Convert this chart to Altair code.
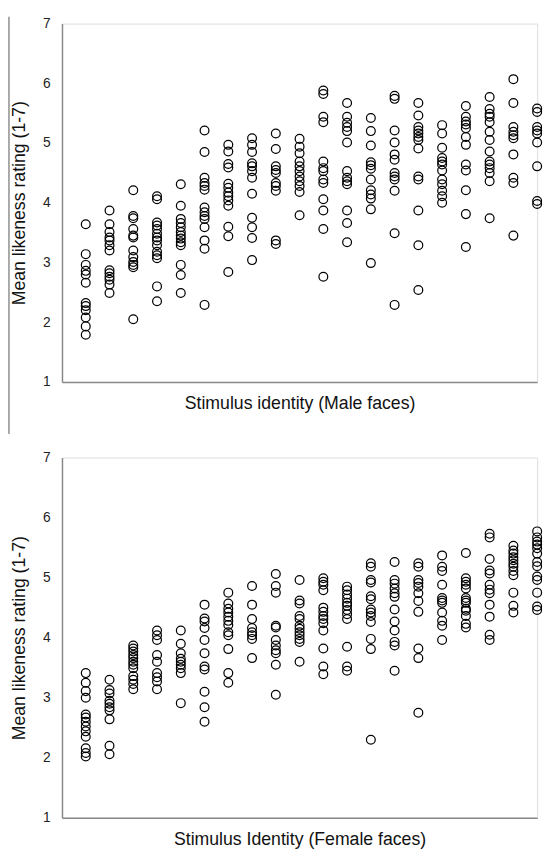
import altair as alt
import pandas as pd

# Male faces: ratings per stimulus identity (20 identities)
male = [
    [3.64, 3.14, 2.96, 2.86, 2.80, 2.66, 2.32, 2.27, 2.20, 2.08, 1.93, 1.79],
    [3.87, 3.64, 3.51, 3.42, 3.37, 3.29, 3.20, 2.87, 2.82, 2.76, 2.71, 2.63, 2.49],
    [4.21, 3.78, 3.74, 3.56, 3.45, 3.42, 3.20, 3.09, 3.01, 2.96, 2.92, 2.05],
    [4.11, 4.06, 3.67, 3.62, 3.56, 3.48, 3.42, 3.37, 3.29, 3.18, 3.12, 3.07, 2.60, 2.35],
    [4.31, 3.95, 3.73, 3.66, 3.59, 3.51, 3.45, 3.40, 3.34, 3.29, 2.96, 2.79, 2.49],
    [5.21, 4.85, 4.42, 4.33, 4.28, 4.22, 3.92, 3.84, 3.78, 3.73, 3.59, 3.37, 3.23, 2.29],
    [4.97, 4.86, 4.65, 4.59, 4.32, 4.25, 4.17, 4.11, 4.04, 3.95, 3.60, 3.44, 2.84],
    [5.08, 4.97, 4.85, 4.66, 4.61, 4.53, 4.42, 4.15, 3.75, 3.59, 3.41, 3.04],
    [5.16, 4.90, 4.61, 4.55, 4.50, 4.33, 4.28, 4.20, 3.37, 3.31],
    [5.07, 4.94, 4.83, 4.69, 4.61, 4.53, 4.44, 4.36, 4.28, 4.18, 3.79],
    [5.88, 5.82, 5.44, 5.35, 4.69, 4.58, 4.53, 4.39, 4.33, 4.06, 3.87, 3.56, 2.76],
    [5.67, 5.44, 5.34, 5.27, 5.20, 5.01, 4.53, 4.42, 4.36, 4.31, 3.87, 3.66, 3.34],
    [5.42, 5.20, 4.96, 4.68, 4.63, 4.57, 4.39, 4.21, 4.14, 4.07, 3.89, 2.99],
    [5.79, 5.74, 5.21, 5.01, 4.81, 4.72, 4.50, 4.44, 4.39, 4.20, 3.49, 2.29],
    [5.67, 5.46, 5.27, 5.21, 5.16, 5.10, 5.05, 4.91, 4.44, 4.39, 3.87, 3.29, 2.54],
    [5.30, 5.16, 4.92, 4.75, 4.69, 4.64, 4.54, 4.39, 4.31, 4.20, 4.11, 4.00],
    [5.62, 5.44, 5.36, 5.31, 5.25, 5.10, 4.97, 4.64, 4.54, 4.21, 3.81, 3.26],
    [5.77, 5.57, 5.49, 5.44, 5.35, 5.19, 5.05, 4.86, 4.69, 4.64, 4.58, 4.50, 4.36, 3.74],
    [6.07, 5.67, 5.27, 5.19, 5.13, 5.08, 4.81, 4.42, 4.33, 3.45],
    [5.58, 5.52, 5.27, 5.21, 5.16, 5.01, 4.61, 4.03, 3.98],
]

# Female faces: ratings per stimulus identity (20 identities)
female = [
    [3.41, 3.25, 3.11, 3.00, 2.72, 2.67, 2.60, 2.52, 2.44, 2.35, 2.16, 2.08, 2.02],
    [3.30, 3.13, 3.07, 2.95, 2.90, 2.84, 2.79, 2.64, 2.20, 2.06],
    [3.87, 3.82, 3.77, 3.71, 3.66, 3.60, 3.55, 3.49, 3.36, 3.30, 3.23, 3.14],
    [4.12, 4.04, 3.96, 3.71, 3.60, 3.41, 3.34, 3.27, 3.14],
    [4.12, 3.90, 3.74, 3.65, 3.60, 3.55, 3.49, 3.41, 2.91],
    [4.55, 4.32, 4.27, 4.16, 3.96, 3.74, 3.52, 3.47, 3.10, 2.84, 2.60],
    [4.75, 4.57, 4.48, 4.42, 4.35, 4.28, 4.21, 4.09, 4.04, 3.81, 3.41, 3.25],
    [4.86, 4.55, 4.31, 4.16, 4.09, 4.04, 3.98, 3.66],
    [5.06, 4.86, 4.75, 4.20, 4.17, 3.96, 3.87, 3.79, 3.74, 3.55, 3.05],
    [4.96, 4.62, 4.57, 4.36, 4.31, 4.20, 4.15, 4.09, 4.04, 3.98, 3.93, 3.60],
    [4.99, 4.93, 4.88, 4.79, 4.50, 4.43, 4.36, 4.31, 4.24, 4.12, 3.82, 3.52, 3.39],
    [4.85, 4.79, 4.72, 4.65, 4.58, 4.53, 4.46, 4.39, 4.31, 3.85, 3.52, 3.45],
    [5.24, 5.18, 4.96, 4.92, 4.69, 4.64, 4.47, 4.42, 4.36, 4.26, 3.98, 3.81, 2.30],
    [5.26, 4.96, 4.90, 4.82, 4.74, 4.68, 4.47, 4.27, 4.12, 3.93, 3.87, 3.45],
    [5.24, 5.18, 4.96, 4.91, 4.85, 4.74, 4.61, 4.43, 3.82, 3.66, 2.75],
    [5.37, 5.18, 5.11, 4.88, 4.66, 4.62, 4.58, 4.42, 4.28, 4.20, 3.96],
    [5.41, 4.99, 4.93, 4.88, 4.82, 4.66, 4.62, 4.58, 4.48, 4.45, 4.36, 4.23, 4.17],
    [5.73, 5.67, 5.31, 5.12, 5.07, 4.88, 4.80, 4.74, 4.55, 4.35, 4.05, 3.96],
    [5.53, 5.45, 5.40, 5.34, 5.29, 5.23, 5.18, 5.11, 5.04, 4.75, 4.53, 4.42],
    [5.77, 5.67, 5.60, 5.55, 5.49, 5.40, 5.26, 5.19, 5.02, 4.96, 4.75, 4.52, 4.46],
]

y_ticks = [1, 2, 3, 4, 5, 6, 7]
titles = ["Stimulus identity (Male faces)", "Stimulus Identity (Female faces)"]
y_title = "Mean likeness rating (1-7)"

FONT = "Liberation Sans"
W = 484


def to_df(groups):
    rows = []
    for i, vals in enumerate(groups, start=1):
        for v in vals:
            rows.append({"stimulus": i, "rating": v})
    return pd.DataFrame(rows)


def panel(groups, xtitle, height, border=False):
    df = to_df(groups)
    pts = alt.Chart(df).mark_point(
        shape="circle", filled=False, color="black", size=80, strokeWidth=1.25, opacity=1
    ).encode(
        x=alt.X("stimulus:Q",
                scale=alt.Scale(domain=[0, 20], nice=False, zero=False),
                axis=alt.Axis(title=xtitle, labels=False, ticks=False, grid=False,
                              domainColor="#888888", domainWidth=1.5,
                              titleFont=FONT, titleFontSize=18, titleFontWeight="normal",
                              titleColor="#111111", titlePadding=13)),
        y=alt.Y("rating:Q",
                scale=alt.Scale(domain=[1, 7], nice=False, zero=False),
                axis=alt.Axis(title=y_title, values=y_ticks, ticks=False, grid=False,
                              domainColor="#888888", domainWidth=1.5,
                              labelFont=FONT, labelFontSize=14, labelColor="#222222",
                              labelPadding=12,
                              titleFont=FONT, titleFontSize=18, titleFontWeight="normal",
                              titleColor="#111111", titlePadding=14)),
    )
    layers = [pts]
    if border:
        rule = alt.Chart(pd.DataFrame({"a": [0]})).mark_rule(color="#555555", strokeWidth=1).encode(
            x=alt.value(-54), y=alt.value(-7), y2=alt.value(418)
        )
        layers.append(rule)
    return alt.layer(*layers).properties(width=W, height=height)


top = panel(male, titles[0], 365, border=True)
bottom = panel(female, titles[1], 367)

chart = alt.vconcat(top, bottom, spacing=15).properties(
    padding={"left": 0, "top": 0, "right": 0, "bottom": 0}
).configure_view(stroke=None).configure(background="white")

chart.save("out.html", embed_options={"renderer": "svg", "actions": False})
